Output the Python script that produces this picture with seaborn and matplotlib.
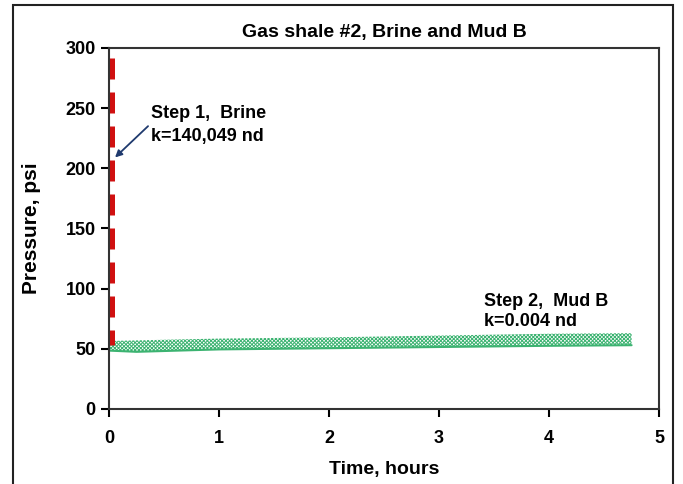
import matplotlib
matplotlib.use("Agg")
import matplotlib.pyplot as plt
import seaborn as sns
from matplotlib.patches import Rectangle

# step 1: brine (red dashed, vertical)
brine_time = [0.027, 0.027]
brine_psi = [292, 53]

# step 2: mud B band (lower / upper edge of the hatched trace)
mud_time = [0.0, 0.25, 1.0, 2.0, 3.0, 4.0, 4.75]
mud_low = [48.5, 47.5, 49.5, 50.5, 51.5, 52.5, 53]
mud_high = [56.5, 57, 58.5, 59.5, 61, 62.5, 63]

title = "Gas shale #2, Brine and Mud B"
xticks = [0, 1, 2, 3, 4, 5]
yticks = [0, 50, 100, 150, 200, 250, 300]

sns.set_style("white")
plt.rcParams['font.family'] = ['Liberation Sans Narrow', 'Liberation Sans', 'DejaVu Sans']
plt.rcParams['font.weight'] = 'bold'
plt.rcParams['text.color'] = 'black'
plt.rcParams['axes.labelcolor'] = 'black'
plt.rcParams['hatch.linewidth'] = 0.7

fig = plt.figure(figsize=(6.83, 4.84), dpi=100)
ax = fig.add_axes([0.1596, 0.155, 0.8054, 0.746])

ax.fill_between(mud_time, mud_low, mud_high, facecolor="none",
                edgecolor="#3cb371", hatch="xxxxxxxxx", linewidth=0)
sns.lineplot(x=mud_time, y=mud_low, ax=ax, color="#3cb371", lw=1.5,
             sort=False, estimator=None)
sns.lineplot(x=brine_time, y=brine_psi, ax=ax, color="#d01010",
             lw=3.6, linestyle=(0, (4.2, 2.6)), sort=False, estimator=None)

ax.set_xlim(0, 5)
ax.set_ylim(0, 300)
ax.set_xticks(xticks)
ax.set_yticks(yticks)
ax.tick_params(direction="out", length=6, width=1.5, labelsize=13,
               bottom=True, left=True, colors="black")
ax.tick_params(axis="x", pad=9)
for s in ax.spines.values():
    s.set_color("#333333")
    s.set_linewidth(1.5)

ax.set_xlabel("Time, hours", fontsize=14, fontweight="bold", labelpad=10)
ax.set_ylabel("Pressure, psi", fontsize=15, fontweight="bold", labelpad=18)
ax.set_title(title, fontsize=14, fontweight="bold", pad=8)

ax.text(0.38, 236, "Step 1,  Brine\nk=140,049 nd", fontsize=13,
        fontweight="bold", va="center", ha="left", linespacing=1.45)
ax.annotate("", xy=(0.055, 209), xytext=(0.355, 235),
            arrowprops=dict(arrowstyle="-|>", color="#1f3a6e", lw=1.3,
                            mutation_scale=10, shrinkA=0, shrinkB=0))
ax.text(3.41, 81, "Step 2,  Mud B\nk=0.004 nd", fontsize=13,
        fontweight="bold", va="center", ha="left", linespacing=1.3)

# outer frame
fig.patches.append(Rectangle((0.019, -0.05), 0.966, 1.04, transform=fig.transFigure,
                             fill=False, edgecolor="#222222", lw=1.5))

fig.savefig("out.png", dpi=100)
